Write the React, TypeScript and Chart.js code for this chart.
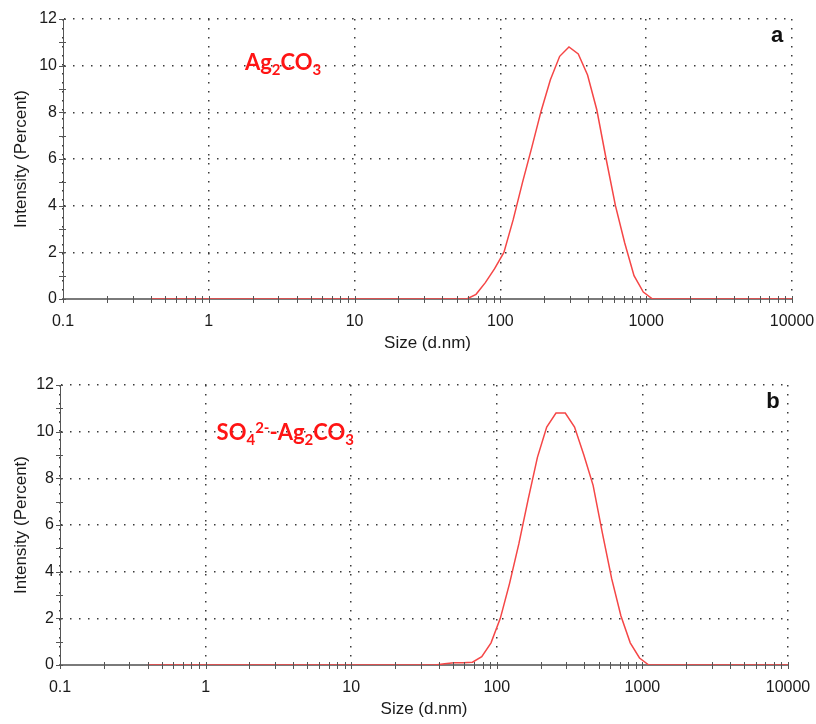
import React, { useEffect, useRef } from 'react';
import { Chart, registerables } from 'chart.js';

Chart.register(...registerables);

// DLS size bins (d.nm)
const sizes: number[] = [
  0.4, 0.4632, 0.5365, 0.6213, 0.7195, 0.8332, 0.9649, 1.117, 1.294, 1.499,
  1.736, 2.01, 2.328, 2.696, 3.122, 3.615, 4.187, 4.849, 5.615, 6.503,
  7.531, 8.721, 10.1, 11.7, 13.54, 15.69, 18.17, 21.04, 24.36, 28.21,
  32.67, 37.84, 43.82, 50.75, 58.77, 68.06, 78.82, 91.28, 105.7, 122.4,
  141.8, 164.2, 190.1, 220.2, 255.0, 295.3, 342.0, 396.1, 458.7, 531.2,
  615.1, 712.4, 825.0, 955.4, 1106, 1281, 1484, 1718, 1990, 2305,
  2669, 3091, 3580, 4145, 4801, 5560, 6439, 7456, 8635, 10000,
];

// (a) Ag2CO3 intensity (%)
const intensityA: number[] = [
  0, 0, 0, 0, 0, 0, 0, 0, 0, 0,
  0, 0, 0, 0, 0, 0, 0, 0, 0, 0,
  0, 0, 0, 0, 0, 0, 0, 0, 0, 0,
  0, 0, 0, 0, 0, 0.2, 0.7, 1.3, 2.0, 3.4,
  5.0, 6.5, 8.05, 9.4, 10.4, 10.8, 10.5, 9.6, 8.1, 6.0,
  4.0, 2.4, 1.0, 0.3, 0, 0, 0, 0, 0, 0,
  0, 0, 0, 0, 0, 0, 0, 0, 0, 0,
];

// (b) SO4(2-)-Ag2CO3 intensity (%)
const intensityB: number[] = [
  0, 0, 0, 0, 0, 0, 0, 0, 0, 0,
  0, 0, 0, 0, 0, 0, 0, 0, 0, 0,
  0, 0, 0, 0, 0, 0, 0, 0, 0, 0,
  0, 0, 0.05, 0.1, 0.1, 0.12, 0.36, 0.95, 2.0, 3.5,
  5.2, 7.1, 8.9, 10.2, 10.8, 10.8, 10.2, 9.0, 7.7, 5.65,
  3.7, 2.1, 0.95, 0.3, 0, 0, 0, 0, 0, 0,
  0, 0, 0, 0, 0, 0, 0, 0, 0, 0,
];

const xTickValues: number[] = [0.1, 1, 10, 100, 1000, 10000];
const xTickLabels: string[] = ['0.1', '1', '10', '100', '1000', '10000'];
const yMin = 0;
const yMax = 12;
const yStep = 2;

const xTitle = 'Size (d.nm)';
const yTitle = 'Intensity (Percent)';

type Run = { t: string; s?: 'sub' | 'sup' };
const labelA: Run[] = [{ t: 'Ag' }, { t: '2', s: 'sub' }, { t: 'CO' }, { t: '3', s: 'sub' }];
const labelB: Run[] = [
  { t: 'SO' }, { t: '4', s: 'sub' }, { t: '2-', s: 'sup' }, { t: '-Ag' },
  { t: '2', s: 'sub' }, { t: 'CO' }, { t: '3', s: 'sub' },
];

const SANS = "'Liberation Sans', Arial, sans-serif";

const tickMarksPlugin = {
  id: 'tickMarks',
  afterDatasetsDraw(chart: any) {
    const { ctx, chartArea: a } = chart;
    const xs = chart.scales.x;
    const ys = chart.scales.y;
    ctx.save();
    ctx.strokeStyle = '#555';
    ctx.lineWidth = 1;
    ctx.beginPath();
    for (let i = 0; i < xTickValues.length; i++) {
      const dec = xTickValues[i];
      const count = i === xTickValues.length - 1 ? 1 : 9;
      for (let m = 1; m <= count; m++) {
        const px = Math.round(xs.getPixelForValue(dec * m)) + 0.5;
        ctx.moveTo(px, a.bottom - 3);
        ctx.lineTo(px, a.bottom + 4);
      }
    }
    for (let v = yMin; v <= yMax; v++) {
      const py = Math.round(ys.getPixelForValue(v)) + 0.5;
      ctx.moveTo(a.left - 4, py);
      ctx.lineTo(a.left + 3, py);
    }
    ctx.stroke();
    ctx.restore();
  },
};

const labelsPlugin = {
  id: 'richLabels',
  afterDraw(chart: any, _args: any, opts: any) {
    const { ctx, chartArea: a } = chart;
    const xs = chart.scales.x;
    const ys = chart.scales.y;
    let x = xs.getPixelForValue(opts.x);
    const base = ys.getPixelForValue(opts.y);
    const size = opts.size;
    ctx.save();
    ctx.fillStyle = '#ff1414';
    ctx.textBaseline = 'alphabetic';
    ctx.textAlign = 'left';
    for (const r of opts.runs as Run[]) {
      const fs = r.s ? Math.round(size * 0.68) : size;
      ctx.font = `bold ${fs}px Lato, 'Open Sans', sans-serif`;
      const dy = r.s === 'sub' ? size * 0.24 : r.s === 'sup' ? -size * 0.34 : 0;
      ctx.fillText(r.t, x, base + dy);
      x += ctx.measureText(r.t).width;
    }
    ctx.fillStyle = '#111';
    ctx.font = `bold 22px ${SANS}`;
    ctx.textAlign = 'center';
    ctx.textBaseline = 'middle';
    ctx.fillText(opts.letter, a.right - 15, a.top + 17);
    ctx.restore();
  },
};

function makeConfig(values: number[], p: any) {
  return {
    type: 'line',
    data: {
      datasets: [
        {
          data: sizes.map((s, i) => ({ x: s, y: values[i] })),
          borderColor: 'rgb(245, 70, 70)',
          borderWidth: 1.5,
          pointRadius: 0,
          tension: 0,
          fill: false,
        },
      ],
    },
    options: {
      animation: false,
      responsive: false,
      maintainAspectRatio: false,
      layout: { padding: { top: p.top, right: p.right, left: 0, bottom: 0 } },
      plugins: {
        legend: { display: false },
        tooltip: { enabled: false },
        richLabels: { runs: p.runs, x: p.annX, y: p.annY, size: p.annSize, letter: p.letter },
      },
      scales: {
        x: {
          type: 'logarithmic',
          min: xTickValues[0],
          max: xTickValues[xTickValues.length - 1],
          afterBuildTicks: (s: any) => {
            s.ticks = xTickValues.map((v) => ({ value: v }));
          },
          afterFit: (s: any) => {
            s.height = p.xAxisH;
            s.paddingLeft = 0;
            s.paddingRight = 0;
          },
          ticks: {
            autoSkip: false,
            maxRotation: 0,
            padding: 13,
            color: '#1a1a1a',
            font: { family: SANS, size: 16 },
            callback: (_v: any, i: number) => xTickLabels[i],
          },
          grid: { color: '#3a3a3a', lineWidth: 1.5, drawTicks: false },
          border: { color: '#7a7a7a', width: 2, dash: [1.5, 7.5] },
          title: {
            display: true,
            text: xTitle,
            color: '#1a1a1a',
            font: { family: SANS, size: 17 },
            padding: { top: 0, bottom: p.xTitlePad },
          },
        },
        y: {
          min: yMin,
          max: yMax,
          afterFit: (s: any) => {
            s.width = p.left;
            s.paddingTop = 0;
            s.paddingBottom = 0;
          },
          ticks: {
            stepSize: yStep,
            padding: 6,
            color: '#1a1a1a',
            font: { family: SANS, size: 16 },
          },
          grid: { color: '#3a3a3a', lineWidth: 1.5, drawTicks: false },
          border: { color: '#555', width: 1, dash: [1.5, 7.5] },
          title: {
            display: true,
            text: yTitle,
            color: '#1a1a1a',
            font: { family: SANS, size: 17 },
            padding: { top: 11, bottom: 0 },
          },
        },
      },
    },
    plugins: [tickMarksPlugin, labelsPlugin],
  };
}

function DlsChart(props: { values: number[]; p: any }) {
  const ref = useRef<HTMLCanvasElement | null>(null);
  useEffect(() => {
    if (!ref.current) return;
    const chart = new Chart(ref.current, makeConfig(props.values, props.p) as any);
    return () => chart.destroy();
  }, []);
  return (
    <canvas
      ref={ref}
      width={816}
      height={362}
      style={{ display: 'block', width: 816, height: 362 }}
    />
  );
}

const topParams = {
  top: 19, right: 24, left: 63, xAxisH: 63, xTitlePad: 8,
  runs: labelA, annX: 1.77, annY: 9.81, annSize: 22, letter: 'a',
};
const bottomParams = {
  top: 23, right: 28, left: 60, xAxisH: 59, xTitlePad: 4,
  runs: labelB, annX: 1.19, annY: 9.64, annSize: 22, letter: 'b',
};

export default function App() {
  return (
    <div style={{ position: 'fixed', left: 0, top: 0, width: 816, height: 724, background: '#fff' }}>
      <DlsChart values={intensityA} p={topParams} />
      <DlsChart values={intensityB} p={bottomParams} />
    </div>
  );
}
